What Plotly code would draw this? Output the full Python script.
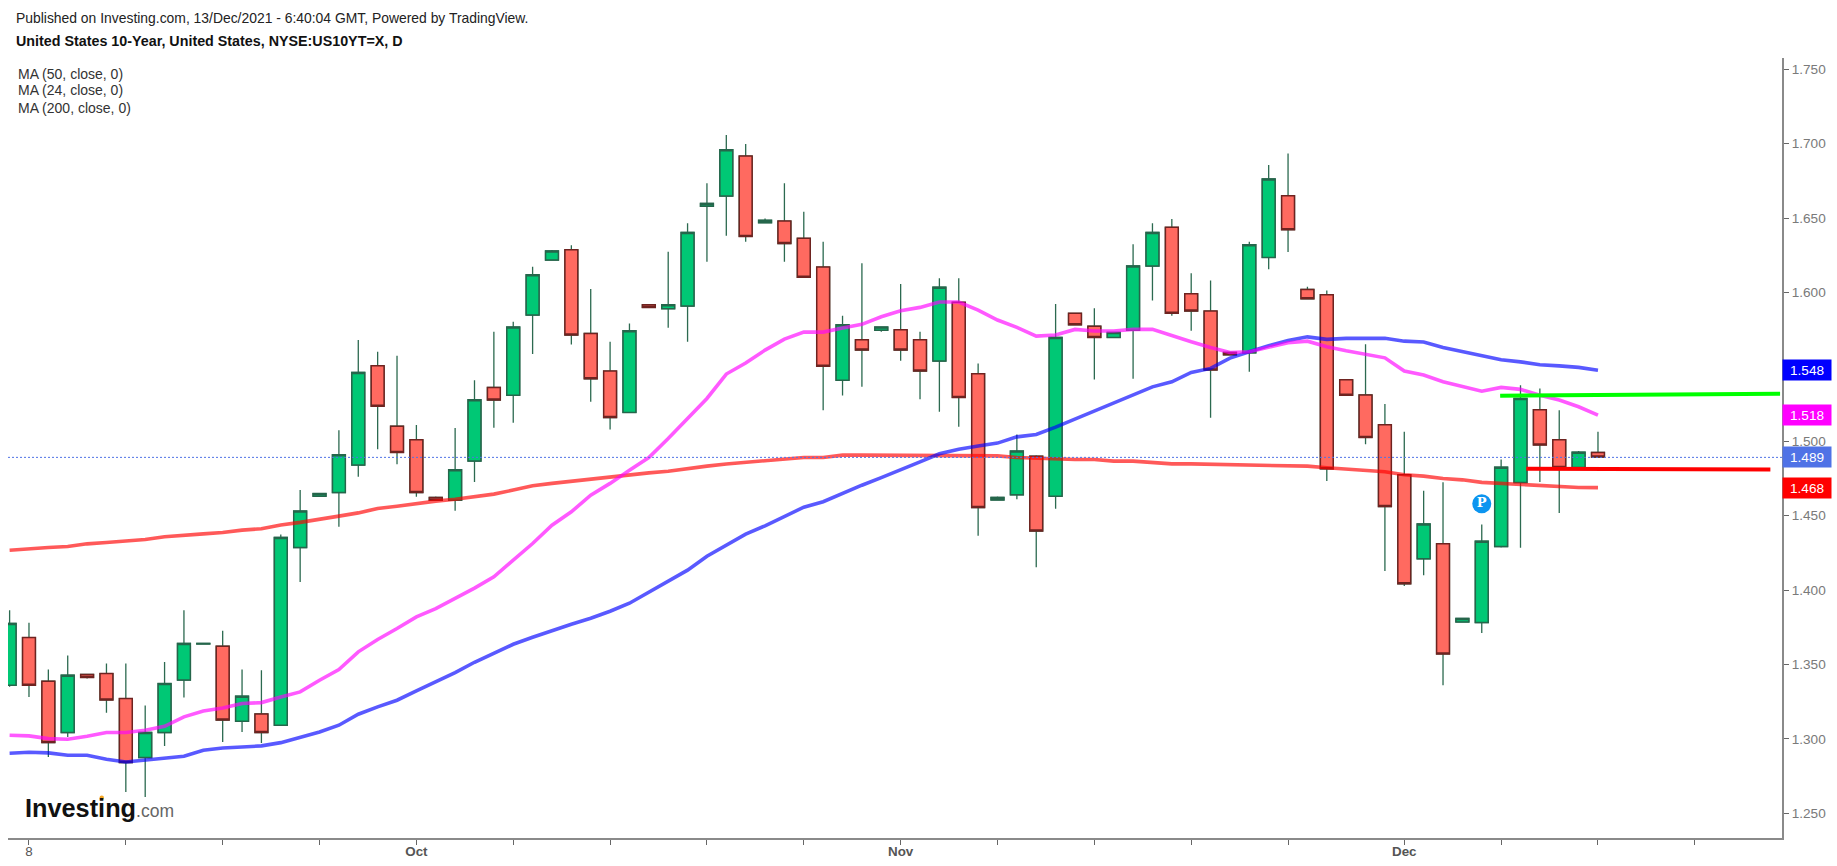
#!/usr/bin/env python3
"""US 10-year yield daily candles with three moving averages, Investing.com style."""
import plotly.graph_objects as go

WIDTH, HEIGHT = 1837, 866
PLOT_L, PLOT_R, PLOT_T, PLOT_B = 8, 1782, 58, 838

OPEN = [
    1.336, 1.3681, 1.3388, 1.3043, 1.3433, 1.3439, 1.3271, 1.2875, 1.3043, 1.3396,
    1.3638, 1.3623, 1.3119, 1.3168, 1.3092, 1.4286, 1.4631, 1.4656, 1.484, 1.5507,
    1.5102, 1.501, 1.4623, 1.4604, 1.4867, 1.5362, 1.531, 1.5848, 1.6218, 1.6287,
    1.5725, 1.5472, 1.5194, 1.5917, 1.5891, 1.5909, 1.6579, 1.6648, 1.6917, 1.6469,
    1.648, 1.6364, 1.6171, 1.5411, 1.5682, 1.5747, 1.5749, 1.5682, 1.5539, 1.5934,
    1.5454, 1.4606, 1.464, 1.49, 1.4631, 1.586, 1.5774, 1.5698, 1.5747, 1.6178,
    1.6438, 1.5991, 1.5875, 1.5597, 1.5595, 1.6236, 1.665, 1.6021, 1.5985, 1.5413,
    1.5312, 1.5111, 1.4775, 1.421, 1.4311, 1.3786, 1.3782, 1.4293, 1.4723, 1.5212,
    1.501, 1.4824, 1.4925,
]
HIGH = [
    1.3865, 1.378, 1.3466, 1.356, 1.3435, 1.3507, 1.3507, 1.3224, 1.3517, 1.3865,
    1.3641, 1.3726, 1.3466, 1.3462, 1.4374, 1.4672, 1.4649, 1.5075, 1.568, 1.5602,
    1.5575, 1.5109, 1.4629, 1.5089, 1.5411, 1.5736, 1.5803, 1.6173, 1.6285, 1.6317,
    1.6023, 1.5669, 1.5792, 1.5922, 1.6274, 1.6465, 1.6734, 1.7058, 1.6998, 1.6498,
    1.6734, 1.6543, 1.6341, 1.5844, 1.6196, 1.5771, 1.6057, 1.5736, 1.6095, 1.6095,
    1.5523, 1.4629, 1.5046, 1.4907, 1.5922, 1.586, 1.5895, 1.5732, 1.6324, 1.6465,
    1.6494, 1.6129, 1.6081, 1.5597, 1.6341, 1.6857, 1.6934, 1.6039, 1.6014, 1.5416,
    1.5653, 1.525, 1.5064, 1.4667, 1.4725, 1.3809, 1.4441, 1.4878, 1.5376, 1.5355,
    1.5208, 1.4934, 1.5064,
]
LOW = [
    1.335, 1.3282, 1.2879, 1.3013, 1.3406, 1.3175, 1.2643, 1.261, 1.2953, 1.3278,
    1.3638, 1.298, 1.3047, 1.2973, 1.3092, 1.4055, 1.4631, 1.4425, 1.4761, 1.4947,
    1.4846, 1.4627, 1.4604, 1.4533, 1.4727, 1.5091, 1.5124, 1.5586, 1.6218, 1.5651,
    1.5265, 1.508, 1.5194, 1.59, 1.5763, 1.5669, 1.6207, 1.6381, 1.6341, 1.6469,
    1.6207, 1.6102, 1.5208, 1.5308, 1.5366, 1.5736, 1.5541, 1.5283, 1.5198, 1.5097,
    1.4366, 1.4606, 1.4611, 1.4154, 1.4547, 1.5783, 1.5416, 1.5698, 1.542, 1.5947,
    1.5844, 1.5743, 1.5158, 1.5581, 1.5467, 1.6157, 1.6272, 1.5958, 1.4734, 1.531,
    1.4981, 1.4129, 1.4028, 1.41, 1.3361, 1.3786, 1.3712, 1.4286, 1.4284, 1.4727,
    1.4519, 1.4824, 1.4894,
]
CLOSE = [
    1.3776, 1.336, 1.2975, 1.3428, 1.3413, 1.3262, 1.2841, 1.3043, 1.3372, 1.3641,
    1.3641, 1.3127, 1.3287, 1.3043, 1.4354, 1.4531, 1.4649, 1.4909, 1.5463, 1.5236,
    1.4925, 1.4656, 1.4604, 1.4808, 1.5279, 1.5277, 1.5768, 1.6119, 1.6279, 1.5714,
    1.542, 1.516, 1.5743, 1.59, 1.5917, 1.6404, 1.6599, 1.696, 1.6377, 1.6485,
    1.6329, 1.6102, 1.5505, 1.5783, 1.5613, 1.5768, 1.5613, 1.5472, 1.6036, 1.5295,
    1.4555, 1.4623, 1.4934, 1.4397, 1.5698, 1.5783, 1.5698, 1.5732, 1.6178, 1.6404,
    1.586, 1.5875, 1.548, 1.5581, 1.6321, 1.6763, 1.6422, 1.5958, 1.4815, 1.531,
    1.5026, 1.4562, 1.4042, 1.4445, 1.3571, 1.3809, 1.4329, 1.4826, 1.5288, 1.4976,
    1.4824, 1.4927, 1.4894,
]

MA50 = [
    1.2904, 1.291, 1.2906, 1.289, 1.289, 1.2863, 1.2845, 1.2856, 1.2868, 1.2883,
    1.2924, 1.2939, 1.2946, 1.2953, 1.2975, 1.3013, 1.3047, 1.3092, 1.3166, 1.3215,
    1.326, 1.3322, 1.3383, 1.3446, 1.3515, 1.3576, 1.3636, 1.3683, 1.373, 1.3771,
    1.3811, 1.3858, 1.3912, 1.3986, 1.406, 1.4134, 1.4228, 1.4302, 1.4376, 1.4432,
    1.4497, 1.4557, 1.4594, 1.4652, 1.4705, 1.4756, 1.4806, 1.4862, 1.4916, 1.4947,
    1.4968, 1.4988, 1.503, 1.5046, 1.5095, 1.5149, 1.5198, 1.5257, 1.531, 1.5366,
    1.54, 1.5463, 1.549, 1.5559, 1.5602, 1.5643, 1.5677, 1.5702, 1.5685, 1.5692,
    1.5692, 1.5692, 1.5673, 1.5667, 1.5631, 1.5602, 1.5571, 1.5548, 1.5534, 1.5514,
    1.5507, 1.5497, 1.5478,
]
MA24 = [
    1.3025, 1.302, 1.3002, 1.2998, 1.3018, 1.3043, 1.3043, 1.3058, 1.3085, 1.3148,
    1.3188, 1.3208, 1.3238, 1.3244, 1.3282, 1.3316, 1.3394, 1.3466, 1.3585, 1.3668,
    1.3742, 1.382, 1.3876, 1.3944, 1.4013, 1.4089, 1.4201, 1.4313, 1.4436, 1.4526,
    1.4638, 1.4717, 1.4806, 1.4891, 1.5019, 1.5154, 1.5288, 1.5452, 1.5526, 1.5613,
    1.5687, 1.5734, 1.5734, 1.5761, 1.5786, 1.5837, 1.5877, 1.59, 1.5936, 1.5936,
    1.5882, 1.5815, 1.5766, 1.5707, 1.5714, 1.5752, 1.5741, 1.5741, 1.5752, 1.5752,
    1.5709, 1.5669, 1.5631, 1.5597, 1.5602, 1.5631, 1.5662, 1.5673, 1.5635, 1.5608,
    1.5586, 1.5561, 1.5472, 1.5445, 1.54, 1.5366, 1.5337, 1.5362, 1.5349, 1.531,
    1.5277, 1.5232, 1.5176,
]
MA200 = [
    1.4268, 1.428, 1.4286, 1.4293, 1.4311, 1.432, 1.4329, 1.434, 1.4358, 1.4371,
    1.4378, 1.4387, 1.4403, 1.4412, 1.4438, 1.4455, 1.4479, 1.4497, 1.4519, 1.4549,
    1.4564, 1.4582, 1.4598, 1.4611, 1.4627, 1.4645, 1.4672, 1.4701, 1.4717, 1.4732,
    1.4748, 1.4757, 1.4773, 1.4788, 1.4799, 1.4818, 1.4833, 1.4848, 1.4858, 1.4867,
    1.4878, 1.4891, 1.4891, 1.4907, 1.4907, 1.4907, 1.4907, 1.4907, 1.4907, 1.4907,
    1.4907, 1.4902, 1.4891, 1.4885, 1.4882, 1.4878, 1.4878, 1.4867, 1.4867, 1.4858,
    1.4848, 1.4848, 1.4846, 1.484, 1.484, 1.484, 1.484, 1.4833, 1.4822, 1.4815,
    1.4808, 1.4795, 1.4775, 1.4766, 1.475, 1.4741, 1.4724, 1.4717, 1.4707, 1.4705,
    1.4699, 1.469, 1.4689,
]

LAST_PRICE = 1.4892

# Two drawn levels: (bar index, price) at each end
GREEN_LEVEL_X = [76.95, 91.4]
GREEN_LEVEL_Y = [1.5306, 1.5319]
RED_LEVEL_X = [78.3, 90.9]
RED_LEVEL_Y = [1.4815, 1.4811]

PIVOT_X = [76]
PIVOT_Y = [1.458]

Y_TICKS = [1.25, 1.30, 1.35, 1.40, 1.45, 1.50, 1.55, 1.60, 1.65, 1.70, 1.75]
X_TICKS = [1, 6, 11, 16, 21, 26, 31, 36, 41, 46, 51, 56, 61, 66, 72, 77, 82, 87]
X_LABELS = ['8', '', '', '', '<b>Oct</b>', '', '', '', '', '<b>Nov</b>', '', '', '', '',
            '<b>Dec</b>', '', '', '']

LEGEND_LINES = ['MA (50, close, 0)', 'MA (24, close, 0)', 'MA (200, close, 0)']
PRICE_TAGS = [
    (1.5478, '1.548', '#0000ff'),
    (1.5176, '1.518', '#ff00ff'),
    (LAST_PRICE, '1.489', '#4f72e6'),
    (1.4683, '1.468', '#ff0000'),
]

FONT = 'Liberation Sans'
GREEN_FILL, RED_FILL = '#00c875', '#ff6a60'
GREEN_EDGE, RED_EDGE = '#25664b', '#6e2320'
WICK = '#2c6a50'


def px(x):
    return (x - PLOT_L) / (PLOT_R - PLOT_L)


def py(y):
    return 1 - (y - PLOT_T) / (PLOT_B - PLOT_T)


def note(x, y, text, size=13.4, color='#333333', **kw):
    fig.add_annotation(xref='paper', yref='paper', x=px(x), y=py(y), text=text,
                       showarrow=False, xanchor='left', yanchor='middle',
                       font=dict(family=FONT, size=size, color=color), **kw)


bars = list(range(len(OPEN)))
fig = go.Figure()

for values, color in [(MA200, 'rgba(255,0,0,0.65)'),
                      (MA50, 'rgba(0,0,255,0.65)'),
                      (MA24, 'rgba(255,0,255,0.65)')]:
    fig.add_trace(go.Scatter(x=bars, y=values, mode='lines',
                             line=dict(color=color, width=3.6), hoverinfo='skip'))

# Wicks are the same dark green on both colours, so they go in their own trace
fig.add_trace(go.Candlestick(
    x=bars, open=OPEN, high=HIGH, low=LOW, close=CLOSE, whiskerwidth=0,
    increasing=dict(line=dict(color=WICK, width=1.3), fillcolor=GREEN_FILL),
    decreasing=dict(line=dict(color=WICK, width=1.3), fillcolor=RED_FILL),
))
fig.add_trace(go.Candlestick(
    x=bars, open=OPEN, close=CLOSE, whiskerwidth=0,
    high=[max(o, c) for o, c in zip(OPEN, CLOSE)],
    low=[min(o, c) for o, c in zip(OPEN, CLOSE)],
    increasing=dict(line=dict(color=GREEN_EDGE, width=1.5), fillcolor=GREEN_FILL),
    decreasing=dict(line=dict(color=RED_EDGE, width=1.5), fillcolor=RED_FILL),
))

fig.add_trace(go.Scatter(x=GREEN_LEVEL_X, y=GREEN_LEVEL_Y, mode='lines',
                         line=dict(color='#00ff00', width=4), hoverinfo='skip'))
fig.add_trace(go.Scatter(x=RED_LEVEL_X, y=RED_LEVEL_Y, mode='lines',
                         line=dict(color='#ff0000', width=4), hoverinfo='skip'))
fig.add_trace(go.Scatter(x=PIVOT_X, y=PIVOT_Y, mode='markers+text', text=['<b>P</b>'],
                         textposition='middle center',
                         textfont=dict(family='DejaVu Serif', size=13, color='white'),
                         marker=dict(size=19, color='#0c95f0'), hoverinfo='skip'))

fig.add_hline(y=LAST_PRICE, line=dict(color='#4f72e6', width=1, dash='2px,2px'))

note(13.5, 18, 'Published on Investing.com, 13/Dec/2021 - 6:40:04 GMT, Powered by TradingView.',
     size=13.9, color='#222222')
note(13.5, 41, '<b>United States 10-Year, United States, NYSE:US10YT=X, D</b>',
     size=14.3, color='#111111')
for label, y in zip(LEGEND_LINES, [73.5, 90.5, 107.5]):
    note(15.5, y, label, size=14)

note(22.5, 808, "<b>Investing</b><span style='font-size:17.5px;color:#666666'>.com</span>",
     size=25.3, color='#111111')
fig.add_shape(type='circle', xref='paper', yref='paper', layer='above', line_width=0,
              fillcolor='#f5a623', x0=px(99.5), x1=px(104), y0=py(800), y1=py(795.5))

for price, label, color in PRICE_TAGS:
    fig.add_annotation(xref='paper', yref='y', x=px(PLOT_R), y=price, text=label,
                       showarrow=False, xanchor='left', yanchor='middle',
                       width=48, height=20, bgcolor=color, borderpad=0, align='center',
                       font=dict(family=FONT, size=13.6, color='white'))
    fig.add_shape(type='line', xref='paper', yref='y', layer='above',
                  x0=px(PLOT_R + 1), x1=px(PLOT_R + 5), y0=price, y1=price,
                  line=dict(color='white', width=1))

fig.update_layout(
    width=WIDTH, height=HEIGHT,
    margin=dict(l=PLOT_L, r=WIDTH - PLOT_R, t=PLOT_T, b=HEIGHT - PLOT_B, autoexpand=False),
    paper_bgcolor='white', plot_bgcolor='white',
    showlegend=False, boxgap=0.05, boxgroupgap=0.3,
    font=dict(family=FONT, size=13.4, color='#7a7a7a'),
)
fig.update_xaxes(
    range=[-0.083, 91.5], rangeslider_visible=False, showgrid=False, zeroline=False,
    tickvals=X_TICKS, ticktext=X_LABELS, ticks='outside', ticklen=5, tickwidth=1,
    tickcolor='#666666', showline=True, linecolor='#8a8a8a', linewidth=2,
    tickfont=dict(family=FONT, size=13.4, color='#555555'), ticklabelstandoff=-5,
)
fig.update_yaxes(
    range=[1.2334, 1.7576], side='right', showgrid=False, zeroline=False,
    tickvals=Y_TICKS, tickformat='.3f', ticks='outside', ticklen=5, tickwidth=1,
    tickcolor='#666666', showline=True, linecolor='#8a8a8a', linewidth=2,
    tickfont=dict(family=FONT, size=13.6, color='#7a7a7a'),
)

fig.write_html("out.html", config={'displayModeBar': False},
               post_script="document.body.style.margin='0';")
